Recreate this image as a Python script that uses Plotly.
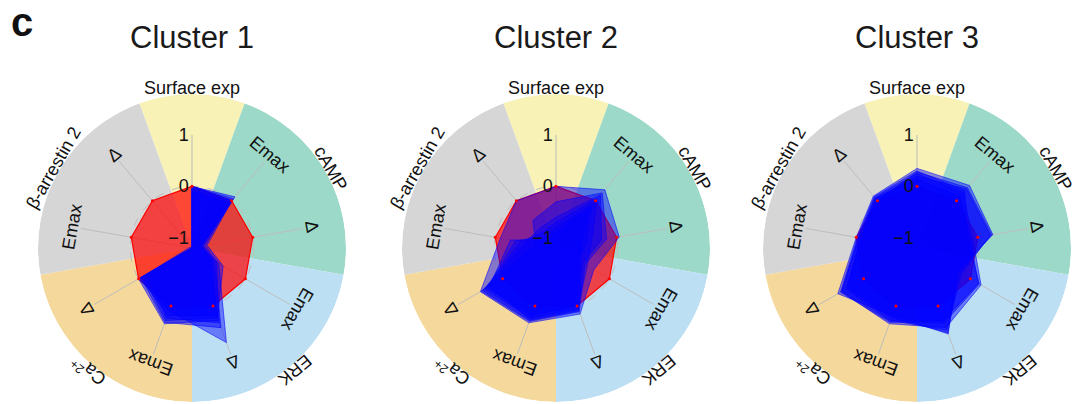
import math
import plotly.graph_objects as go

# ---------------- data ----------------
spoke_theta = [0, 40, 80, 120, 160, 200, 240, 280, 320]
spoke_labels = ["", "Emax", "Δ", "Emax", "Δ", "Emax", "Δ", "Emax", "Δ"]

group_names = ["Surface exp", "cAMP", "ERK", "Ca<sup>2+</sup>", "β-arrestin 2"]
group_theta = [0, 60, 140, 220, 300]
group_width = [40, 80, 80, 80, 80]
group_colors = ["#F8F2B6", "#9CD9C8", "#BCDFF3", "#F5D89C", "#D6D6D6"]

radial_ticks = [-1, 0, 1]
radial_ticktext = ["−1", "0", "1"]

cluster_titles = ["Cluster 1", "Cluster 2", "Cluster 3"]

# reference profile (red), order: Surface, cAMP Emax, cAMP Δ, ERK Emax, ERK Δ, Ca Emax, Ca Δ, βarr Emax, βarr Δ
reference = [0, 0, 0, 0, 0, 0, 0, 0, 0]

cluster1 = [
    [0.0, 0.10, -0.95, -0.60, 0.76, 0.10, 0.00, -1.2, -1.2],
    [0.0, 0.05, -1.00, -0.70, 0.45, 0.34, -0.05, -1.2, -1.2],
    [-0.05, -0.05, -1.00, -0.80, 0.30, 0.37, 0.00, -1.2, -1.2],
    [0.0, 0.00, -0.90, -0.50, 0.25, 0.30, -0.10, -1.2, -1.2],
    [-0.1, -0.10, -1.05, -0.75, 0.20, 0.20, -0.05, -1.15, -1.2],
    [0.0, 0.00, -1.00, -0.65, 0.35, 0.25, -0.20, -1.2, -1.2],
]
cluster2 = [
    [0.00, 0.28, 0.05, -0.35, 0.17, 0.35, 0.50, -0.10, 0.00],
    [-0.60, 0.15, -0.30, -0.60, 0.10, 0.30, 0.45, -0.60, -0.70],
    [-0.70, 0.05, -0.50, -0.50, 0.05, 0.25, 0.40, -0.50, -0.80],
    [-0.80, -0.10, -0.60, -0.70, 0.00, 0.20, 0.35, -0.40, -0.90],
    [-0.30, 0.20, -0.20, -0.55, 0.12, 0.32, 0.48, -0.80, -0.50],
    [-0.90, -0.20, -0.70, -0.65, 0.08, 0.28, 0.30, -0.30, -1.00],
]
cluster3 = [
    [0.35, 0.39, 0.30, -0.30, 0.58, 0.20, 0.58, 0.00, 0.12],
    [0.25, 0.20, -0.10, 0.24, 0.45, 0.37, 0.50, -0.05, 0.08],
    [0.20, 0.30, 0.25, -0.20, 0.50, 0.30, 0.40, -0.10, 0.05],
    [0.30, 0.25, -0.20, 0.20, 0.35, 0.34, 0.52, -0.02, 0.10],
    [0.28, 0.33, 0.28, -0.25, 0.55, 0.25, 0.35, -0.08, 0.00],
    [0.15, 0.10, -0.15, 0.18, 0.30, 0.32, 0.48, -0.04, 0.06],
]
clusters = [cluster1, cluster2, cluster3]

# ---------------- layout geometry (pixels) ----------------
W, H = 1074, 404
centers_x = [192, 556, 917]
center_y = 248          # from top
R_outer = 154           # coloured ring radius
R_inner = 113           # radius of r = 1
label_r_group = 160
label_r_spoke = 122

FONT = "Liberation Sans, Arial, sans-serif"

fig = go.Figure()
layout_polars = {}
annotations = []

for k, cx in enumerate(centers_x):
    pa = "polar" if k == 0 else f"polar{k + 1}"
    fig.add_trace(go.Barpolar(
        r=[1] * len(group_theta), theta=group_theta, width=group_width,
        marker=dict(color=group_colors, line=dict(width=0)),
        subplot=pa, showlegend=False, hoverinfo="skip"))
    layout_polars[pa] = dict(
        domain=dict(x=[(cx - R_outer) / W, (cx + R_outer) / W],
                    y=[(H - center_y - R_outer) / H, (H - center_y + R_outer) / H]),
        bgcolor="rgba(0,0,0,0)",
        radialaxis=dict(range=[0, 1], visible=False),
        angularaxis=dict(visible=False, rotation=90, direction="clockwise"),
    )

for k, cx in enumerate(centers_x):
    pb = f"polar{k + 4}"
    th = spoke_theta + [spoke_theta[0]]
    fig.add_trace(go.Scatterpolar(
        r=reference + [reference[0]], theta=th, mode="lines",
        fill="toself", fillcolor="rgba(255,0,0,0.7)",
        line=dict(color="rgb(255,0,0)", width=1.2),
        subplot=pb, showlegend=False, hoverinfo="skip"))
    for prof in clusters[k]:
        fig.add_trace(go.Scatterpolar(
            r=prof + [prof[0]], theta=th, mode="lines",
            fill="toself", fillcolor="rgba(0,0,255,0.45)",
            line=dict(color="rgba(0,0,255,0.7)", width=0.8),
            subplot=pb, showlegend=False, hoverinfo="skip"))
    # reference vertices drawn on top as small dots
    fig.add_trace(go.Scatterpolar(
        r=reference, theta=spoke_theta, mode="markers",
        marker=dict(size=3, color="red"),
        subplot=pb, showlegend=False, hoverinfo="skip"))
    layout_polars[pb] = dict(
        domain=dict(x=[(cx - R_inner) / W, (cx + R_inner) / W],
                    y=[(H - center_y - R_inner) / H, (H - center_y + R_inner) / H]),
        bgcolor="rgba(0,0,0,0)",
        radialaxis=dict(range=[-1.2, 1], tickvals=radial_ticks, ticktext=radial_ticktext,
                        showline=False, ticks="", angle=90, tickangle=90,
                        side="counterclockwise",
                        gridcolor="#BDBDBD", griddash="dash", gridwidth=1,
                        tickfont=dict(size=18, color="#111", family=FONT)),
        angularaxis=dict(rotation=90, direction="clockwise", tickmode="array",
                         tickvals=spoke_theta, showticklabels=False, ticks="",
                         showline=False, gridcolor="#BDBDBD", gridwidth=1),
    )

    cy = center_y
    annotations.append(dict(x=cx / W, y=1 - 38 / H, xref="paper", yref="paper",
                            xanchor="center", yanchor="middle",
                            text=cluster_titles[k], showarrow=False,
                            font=dict(size=31, color="#1a1a1a", family=FONT)))
    for name, t in zip(group_names, group_theta):
        a = math.radians(t)
        x = cx + label_r_group * math.sin(a)
        y = cy - label_r_group * math.cos(a)
        annotations.append(dict(x=x / W, y=1 - y / H, xref="paper", yref="paper",
                                text=name, textangle=t, showarrow=False,
                                xanchor="center", yanchor="middle",
                                font=dict(size=18, color="#111", family=FONT)))
    for name, t in zip(spoke_labels, spoke_theta):
        if not name:
            continue
        a = math.radians(t)
        x = cx + label_r_spoke * math.sin(a)
        y = cy - label_r_spoke * math.cos(a)
        annotations.append(dict(x=x / W, y=1 - y / H, xref="paper", yref="paper",
                                text=name, textangle=t, showarrow=False,
                                xanchor="center", yanchor="middle",
                                font=dict(size=18, color="#111", family=FONT)))

annotations.append(dict(x=22 / W, y=1 - 22 / H, xref="paper", yref="paper", text="<b>c</b>",
                        xanchor="center", yanchor="middle",
                        showarrow=False, font=dict(size=40, color="#111", family=FONT)))

fig.update_layout(width=W, height=H, margin=dict(l=0, r=0, t=0, b=0),
                  paper_bgcolor="white", plot_bgcolor="white",
                  annotations=annotations, **layout_polars)
fig.write_html("out.html", config={"displayModeBar": False},
               post_script="document.body.style.margin='0';")
